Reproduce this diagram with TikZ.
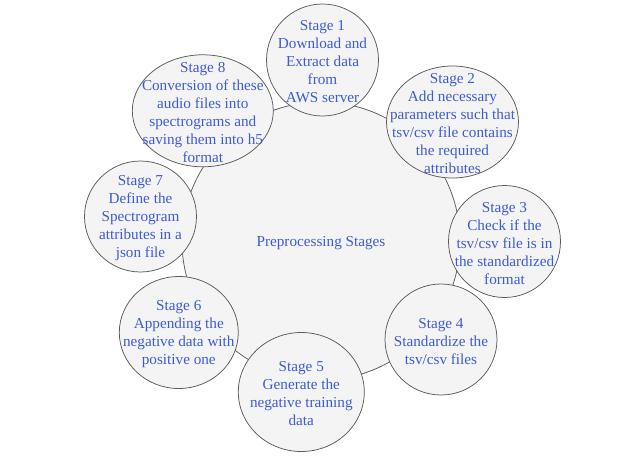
\documentclass[tikz,border=0pt]{standalone}
\usepackage{fontspec}
\setmainfont{Liberation Serif}
\usetikzlibrary{shapes.geometric}
\definecolor{txtblue}{HTML}{3C5BD6}
\definecolor{fillgray}{HTML}{F4F4F4}
\definecolor{linegray}{HTML}{5A5A5A}
\tikzset{
  blob/.style={ellipse, draw=linegray, fill=fillgray, line width=0.75pt, inner sep=0pt},
  txt/.style={text=txtblue, align=center, font=\fontsize{15.2}{18}\selectfont, inner sep=0pt, yshift=-2pt}
}
\begin{document}
\begin{tikzpicture}[x=1pt,y=-1pt]
\useasboundingbox (0,0) rectangle (625,469);
\node[blob, minimum width=278pt, minimum height=278pt] (c) at (321,241) {};
\node[txt] (ct) at (c) {Preprocessing Stages};
% stages
\node[blob, minimum width=112pt, minimum height=112pt] (s1) at (322.5,60) {};
\node[txt] (t1) at (s1) {Stage 1\\Download and\\Extract data\\from\\AWS server};
\node[blob, minimum width=132pt, minimum height=112pt] (s2) at (452.5,122) {};
\node[txt] (t2) at (s2) {Stage 2\\Add necessary\\parameters such that\\tsv/csv file contains\\the required\\attributes};
\node[blob, minimum width=112pt, minimum height=112pt] (s3) at (504.5,241.5) {};
\node[txt] (t3) at (s3) {Stage 3\\Check if the\\tsv/csv file is in\\the standardized\\format};
\node[blob, minimum width=112pt, minimum height=111pt] (s4) at (441,339.5) {};
\node[txt] (t4) at (s4) {Stage 4\\Standardize the\\tsv/csv files};
\node[blob, minimum width=126pt, minimum height=119pt] (s5) at (301.3,392) {};
\node[txt] (t5) at (s5) {Stage 5\\Generate the\\negative training\\data};
\node[blob, minimum width=119pt, minimum height=112pt] (s6) at (178.8,332.5) {};
\node[txt] (t6) at (s6) {Stage 6\\Appending the\\negative data with\\positive one};
\node[blob, minimum width=112pt, minimum height=111pt] (s7) at (140.5,216.5) {};
\node[txt] (t7) at (s7) {Stage 7\\Define the\\Spectrogram\\attributes in a\\json file};
\node[blob, minimum width=141pt, minimum height=112pt] (s8) at (202.8,110.8) {};
\node[txt] (t8) at (s8) {Stage 8\\Conversion of these\\audio files into\\spectrograms and\\saving them into h5\\format};
\end{tikzpicture}
\end{document}
